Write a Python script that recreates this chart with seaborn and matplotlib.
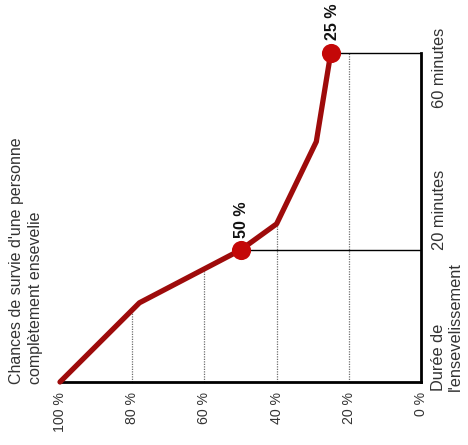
import numpy as np
import pandas as pd
import seaborn as sns
from matplotlib import pyplot as plt
from matplotlib import transforms

# survival chance (%) vs burial time (minutes)
survival = [100, 78, 50, 40, 29, 25]
minutes = [0, 12, 20, 25.3, 42, 60]
marked_survival = [50, 25]
marked_minutes = [20, 60]
marked_labels = ['50 %', '25 %']
guide_survival = [80, 60, 40, 20]
x_ticks = [100, 80, 60, 40, 20, 0]
x_ticklabels = ['100 %', '80 %', '60 %', '40 %', '20 %', '0 %']
time_ticks = [20, 60]
time_ticklabels = ['20 minutes', '60 minutes']

sns.set_style('white')
plt.rcParams['font.family'] = ['Liberation Sans', 'DejaVu Sans']

LINE_RED = '#9e0b0b'
DOT_RED = '#c40808'
TXT = '#333333'

# time axis of the original is not linear: 20 min and 60 min sit at fixed heights
knots_min = [0, 20, 60, 100]
knots_px = [0, 132, 329, 526]


def fwd(v):
    return np.interp(v, knots_min, knots_px)


def inv(v):
    return np.interp(v, knots_px, knots_min)


fig = plt.figure(figsize=(4.68, 4.45), dpi=100)
ax = fig.add_axes([60 / 468, 63 / 445, 361 / 468, 382 / 445])
ax.set_yscale('function', functions=(fwd, inv))
ax.set_xlim(100, 0)
ax.set_ylim(0, inv(382))

df = pd.DataFrame({'survie': survival, 'minutes': minutes})

# dotted guides from the axis up to the curve
curve_at = np.interp(guide_survival, survival[::-1], minutes[::-1])
ax.vlines(guide_survival, 0, curve_at, colors='#6e6e6e', linestyles=(0, (1, 1)), lw=0.9, zorder=1)

# thin reference lines from the marked points to the time axis
ax.hlines(marked_minutes, marked_survival, 0, colors='black', lw=1, zorder=1)

sns.lineplot(data=df, x='survie', y='minutes', sort=False, estimator=None,
             color=LINE_RED, lw=3.8, ax=ax, zorder=3, clip_on=False)
sns.scatterplot(x=marked_survival, y=marked_minutes, s=190, color=DOT_RED,
                edgecolor=DOT_RED, linewidth=0, ax=ax, zorder=4, clip_on=False)

for sv, mn, lab in zip(marked_survival, marked_minutes, marked_labels):
    ax.annotate(lab, (sv, mn), xytext=(1, 9), textcoords='offset points',
                rotation=90, ha='center', va='bottom', fontsize=11.5,
                fontweight='bold', color='#111111')

for side in ['top', 'left']:
    ax.spines[side].set_visible(False)
ax.spines['bottom'].set_linewidth(2)
ax.spines['bottom'].set_color('black')
ax.spines['right'].set_linewidth(2)
ax.spines['right'].set_color('black')
ax.spines['right'].set_bounds(0, 60)

ax.set_xticks(x_ticks)
ax.set_xticklabels(x_ticklabels, rotation=90, fontsize=10.2, color=TXT)
ax.tick_params(axis='x', length=0, pad=7)
ax.set_yticks([])
ax.set_xlabel('')
ax.set_ylabel('')

# time labels on the right, written upwards like the rest of the chart
lab_tr = transforms.blended_transform_factory(fig.transFigure, ax.transData)
ax.text(439 / 468, time_ticks[0], time_ticklabels[0], transform=lab_tr, rotation=90,
        ha='center', va='bottom', fontsize=11.8, color=TXT)
ax.text(439 / 468, time_ticks[1], time_ticklabels[1],
        transform=transforms.offset_copy(lab_tr, fig=fig, y=-11, units='points'),
        rotation=90, ha='center', va='center', fontsize=11.8, color=TXT)

fig.text(447 / 468, (445 - 391) / 445, "Durée de\nl'ensevelissement", rotation=90,
         ha='center', va='bottom', multialignment='left', linespacing=1.1,
         fontsize=11.8, color=TXT)
fig.text(26 / 468, (445 - 384) / 445,
         "Chances de survie d'une personne\ncomplètement ensevelie", rotation=90,
         ha='center', va='bottom', multialignment='left', linespacing=1.35,
         fontsize=11.5, color=TXT)

plt.savefig('out.png', dpi=100)
